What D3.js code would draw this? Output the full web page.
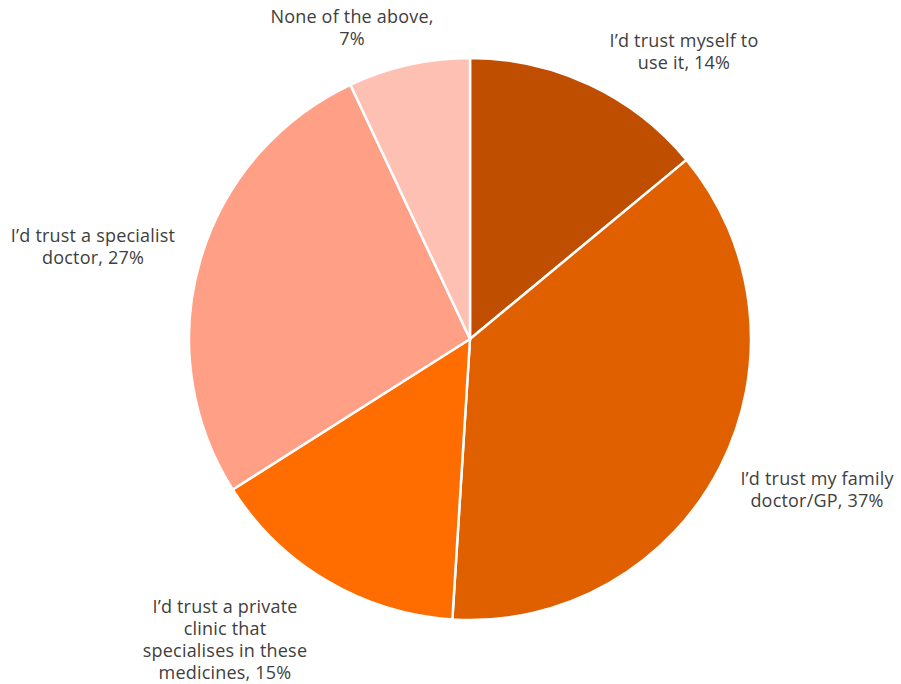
<!DOCTYPE html>
<html>
<head>
<meta charset="utf-8">
<script src="https://cdn.jsdelivr.net/npm/d3@7"></script>
<style>
  html, body { margin: 0; padding: 0; background: #ffffff; }
  svg { display: block; }
</style>
</head>
<body>
<div id="chart"></div>
<script>
// Survey answers, clockwise from 12 o'clock
const categories = [
  "I’d trust myself to use it",
  "I’d trust my family doctor/GP",
  "I’d trust a private clinic that specialises in these medicines",
  "I’d trust a specialist doctor",
  "None of the above"
];
const values = [14, 37, 15, 27, 7];
const colors = ["#bf4e00", "#e06000", "#ff6d00", "#ff9f85", "#ffc0b4"];

// Wrapped label lines for each slice (text shown next to the pie)
const labelLines = [
  ["I’d trust myself to", "use it, 14%"],
  ["I’d trust my family", "doctor/GP, 37%"],
  ["I’d trust a private", "clinic that", "specialises in these", "medicines, 15%"],
  ["I’d trust a specialist", "doctor, 27%"],
  ["None of the above,", "7%"]
];

const width = 901, height = 684;
const cx = 470, cy = 339, radius = 281;

// Label block placement (centre x, first baseline y) relative to the pie centre
const labelLayout = [
  { dx: 214, dy: -292 },
  { dx: 347, dy: 146 },
  { dx: -245, dy: 274 },
  { dx: -377, dy: -97 },
  { dx: -118, dy: -316 }
];
const lineHeight = 22;

const svg = d3.select("#chart").append("svg")
  .attr("width", width)
  .attr("height", height);

const pie = d3.pie().value(d => d).sort(null);
const arc = d3.arc().innerRadius(0).outerRadius(radius);
const color = d3.scaleOrdinal().domain(d3.range(values.length)).range(colors);

const g = svg.append("g").attr("transform", `translate(${cx},${cy})`);

g.selectAll("path.slice")
  .data(pie(values))
  .join("path")
  .attr("class", "slice")
  .attr("d", arc)
  .attr("fill", (d, i) => color(i))
  .attr("stroke", "#ffffff")
  .attr("stroke-width", 2.5)
  .attr("stroke-linejoin", "round");

const labels = g.selectAll("text.label")
  .data(labelLines)
  .join("text")
  .attr("class", "label")
  .attr("text-anchor", "middle")
  .attr("font-family", "'Open Sans', Lato, sans-serif")
  .attr("font-size", 18)
  .attr("letter-spacing", 0.2)
  .attr("fill", "#404040")
  .attr("transform", (d, i) => `translate(${labelLayout[i].dx},${labelLayout[i].dy})`);

labels.selectAll("tspan")
  .data(d => d)
  .join("tspan")
  .attr("x", 0)
  .attr("y", (d, j) => j * lineHeight)
  .text(d => d);
</script>
</body>
</html>
